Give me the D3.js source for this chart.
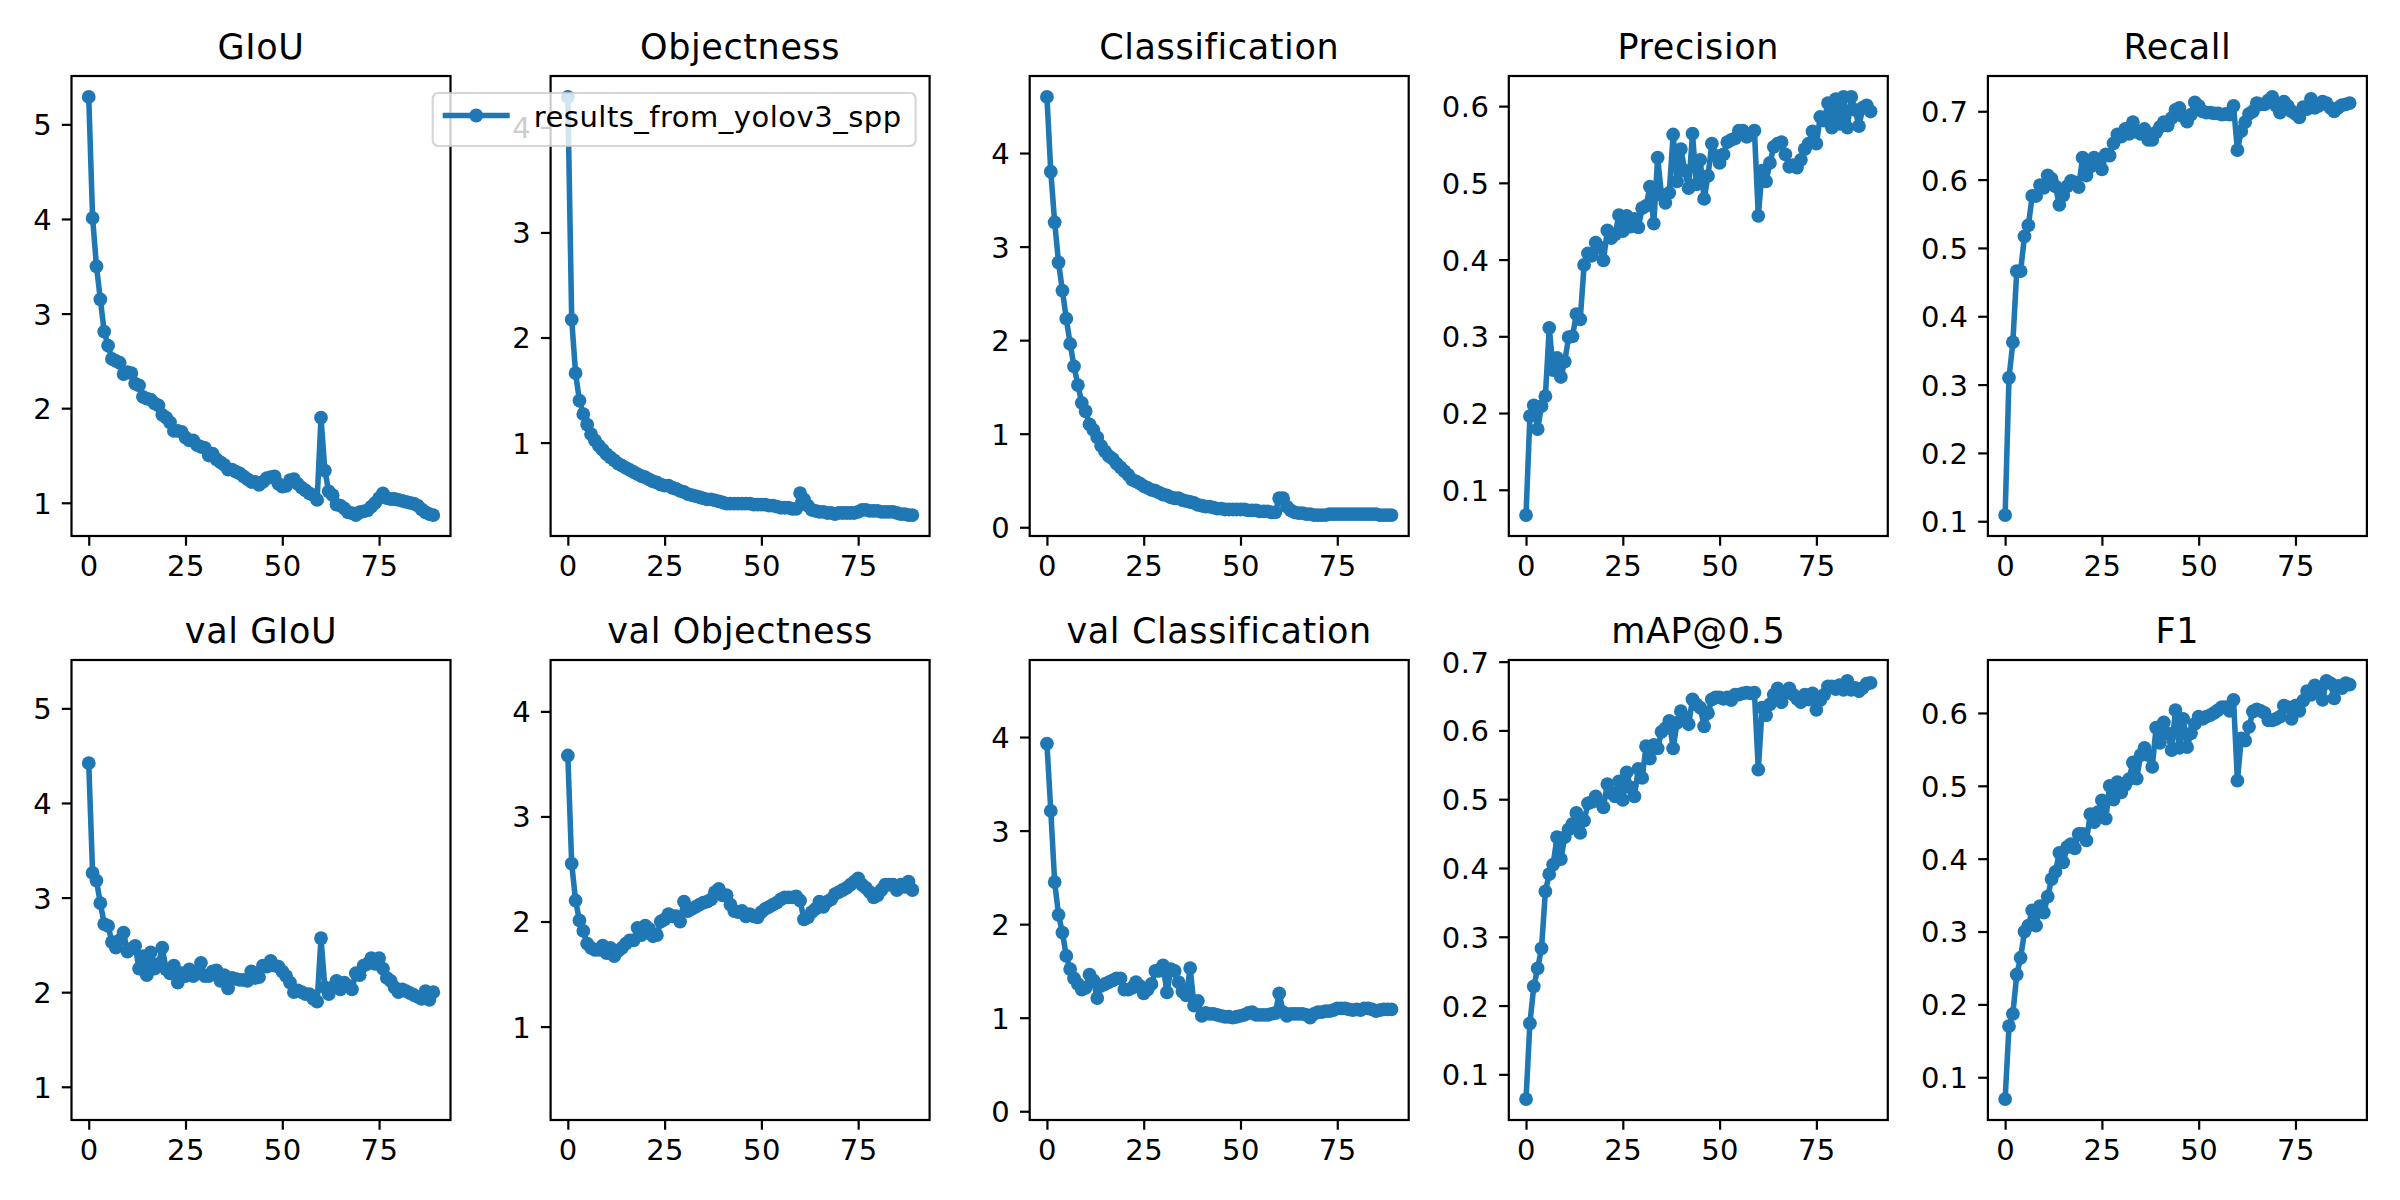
<!DOCTYPE html>
<html><head><meta charset="utf-8">
<script src="https://cdn.jsdelivr.net/npm/d3@7"></script>
<style>body{margin:0;background:#fff}</style>
</head><body>
<svg id="chart" width="2400" height="1200" xmlns="http://www.w3.org/2000/svg"></svg>
<script>
// ---------------- data ----------------
const titles = ["GIoU","Objectness","Classification","Precision","Recall",
                "val GIoU","val Objectness","val Classification","mAP@0.5","F1"];
const legendLabel = "results_from_yolov3_spp";
const xTickLabels = ["0","25","50","75"];

const giou = [5.29,4.01,3.50,3.15,2.81,2.66,2.52,2.50,2.48,2.36,
  2.38,2.37,2.26,2.24,2.12,2.10,2.09,2.05,2.03,1.93,
  1.90,1.85,1.76,1.76,1.75,1.69,1.66,1.66,1.61,1.59,
  1.58,1.50,1.52,1.46,1.43,1.40,1.35,1.35,1.33,1.31,
  1.28,1.25,1.22,1.22,1.19,1.22,1.26,1.27,1.28,1.20,
  1.17,1.18,1.24,1.25,1.20,1.16,1.13,1.10,1.08,1.03,
  1.90,1.34,1.12,1.08,0.98,0.97,0.94,0.90,0.89,0.87,
  0.90,0.91,0.92,0.96,1.00,1.05,1.10,1.05,1.04,1.04,
  1.03,1.02,1.01,1.00,0.99,0.97,0.93,0.90,0.88,0.87];
const objectness = [4.29,2.17,1.66,1.40,1.27,1.17,1.08,1.02,0.97,0.93,
  0.89,0.86,0.83,0.80,0.78,0.76,0.74,0.72,0.70,0.68,
  0.67,0.65,0.63,0.62,0.60,0.59,0.59,0.57,0.56,0.54,
  0.53,0.51,0.50,0.49,0.48,0.47,0.46,0.46,0.45,0.44,
  0.43,0.42,0.42,0.42,0.42,0.42,0.42,0.42,0.41,0.41,
  0.41,0.41,0.40,0.40,0.39,0.38,0.38,0.38,0.37,0.37,
  0.52,0.46,0.40,0.36,0.35,0.34,0.34,0.33,0.33,0.32,
  0.33,0.33,0.33,0.33,0.33,0.34,0.36,0.36,0.35,0.35,
  0.35,0.34,0.34,0.34,0.34,0.33,0.32,0.32,0.31,0.31];
const classification = [4.60,3.80,3.26,2.83,2.53,2.23,1.96,1.72,1.52,1.33,
  1.24,1.10,1.04,0.96,0.87,0.81,0.76,0.73,0.68,0.64,
  0.60,0.56,0.51,0.49,0.47,0.44,0.42,0.40,0.39,0.37,
  0.35,0.34,0.32,0.31,0.31,0.29,0.28,0.27,0.26,0.24,
  0.23,0.22,0.22,0.21,0.20,0.20,0.19,0.19,0.19,0.19,
  0.19,0.19,0.18,0.18,0.18,0.17,0.17,0.17,0.16,0.16,
  0.31,0.31,0.22,0.18,0.16,0.15,0.15,0.14,0.14,0.13,
  0.13,0.13,0.13,0.14,0.14,0.14,0.14,0.14,0.14,0.14,
  0.14,0.14,0.14,0.14,0.14,0.14,0.13,0.13,0.13,0.13];
const precision = [0.067,0.196,0.210,0.179,0.209,0.222,0.311,0.256,0.272,0.247,
  0.267,0.299,0.300,0.329,0.322,0.393,0.408,0.405,0.422,0.416,
  0.399,0.438,0.428,0.433,0.458,0.437,0.457,0.443,0.453,0.442,
  0.467,0.470,0.495,0.447,0.533,0.484,0.474,0.487,0.563,0.502,
  0.544,0.516,0.493,0.564,0.498,0.530,0.479,0.509,0.551,0.535,
  0.526,0.537,0.553,0.556,0.558,0.568,0.568,0.560,0.563,0.568,
  0.457,0.516,0.502,0.526,0.547,0.551,0.553,0.537,0.521,0.523,
  0.520,0.530,0.544,0.551,0.567,0.551,0.586,0.581,0.604,0.572,
  0.609,0.577,0.612,0.572,0.612,0.595,0.574,0.598,0.601,0.593];
const recall = [0.109,0.310,0.362,0.466,0.466,0.517,0.533,0.576,0.576,0.592,
  0.588,0.606,0.601,0.590,0.563,0.577,0.590,0.598,0.596,0.589,
  0.632,0.606,0.619,0.632,0.627,0.615,0.637,0.635,0.653,0.666,
  0.663,0.674,0.667,0.684,0.670,0.667,0.674,0.658,0.658,0.669,
  0.677,0.684,0.679,0.690,0.702,0.705,0.692,0.685,0.695,0.713,
  0.708,0.700,0.698,0.698,0.697,0.697,0.695,0.696,0.695,0.708,
  0.643,0.671,0.684,0.696,0.700,0.712,0.710,0.710,0.716,0.721,
  0.708,0.698,0.714,0.708,0.700,0.696,0.691,0.706,0.703,0.718,
  0.705,0.708,0.714,0.712,0.705,0.700,0.705,0.709,0.710,0.712];
const valGiou = [4.42,3.26,3.18,2.94,2.72,2.70,2.53,2.47,2.55,2.63,
  2.43,2.46,2.49,2.25,2.38,2.18,2.42,2.25,2.30,2.47,
  2.24,2.20,2.28,2.10,2.20,2.17,2.24,2.17,2.22,2.31,
  2.17,2.17,2.22,2.23,2.12,2.18,2.04,2.15,2.14,2.13,
  2.13,2.12,2.22,2.15,2.16,2.28,2.27,2.33,2.28,2.27,
  2.22,2.17,2.10,2.00,2.02,2.00,1.98,1.98,1.93,1.90,
  2.57,2.05,1.98,2.05,2.12,2.03,2.10,2.07,2.03,2.20,
  2.18,2.28,2.30,2.36,2.30,2.36,2.25,2.15,2.12,2.05,
  2.00,2.03,2.01,1.99,1.97,1.95,1.93,2.01,1.92,2.00];
const valObjectness = [3.58,2.55,2.20,2.01,1.91,1.79,1.75,1.73,1.73,1.77,
  1.70,1.75,1.67,1.72,1.75,1.79,1.82,1.82,1.94,1.87,
  1.96,1.93,1.86,1.87,2.00,2.02,2.07,2.05,2.05,2.00,
  2.19,2.10,2.12,2.14,2.16,2.18,2.19,2.21,2.28,2.31,
  2.25,2.25,2.16,2.10,2.09,2.10,2.05,2.07,2.05,2.04,
  2.09,2.12,2.14,2.16,2.18,2.21,2.23,2.23,2.23,2.24,
  2.20,2.02,2.04,2.09,2.12,2.19,2.14,2.19,2.21,2.26,
  2.28,2.30,2.32,2.35,2.38,2.41,2.35,2.32,2.28,2.23,
  2.25,2.30,2.35,2.35,2.35,2.30,2.35,2.33,2.38,2.30];
const valClassification = [3.93,3.21,2.45,2.10,1.91,1.66,1.52,1.42,1.36,1.30,
  1.32,1.46,1.40,1.21,1.34,1.36,1.38,1.40,1.42,1.42,
  1.30,1.30,1.32,1.38,1.34,1.26,1.30,1.36,1.50,1.50,
  1.56,1.27,1.52,1.50,1.38,1.28,1.24,1.53,1.13,1.18,
  1.02,1.05,1.04,1.04,1.03,1.02,1.01,1.01,1.00,1.01,
  1.02,1.03,1.05,1.06,1.03,1.03,1.03,1.03,1.04,1.05,
  1.26,1.06,1.02,1.04,1.04,1.04,1.04,1.03,1.00,1.04,
  1.06,1.06,1.07,1.07,1.08,1.10,1.10,1.10,1.09,1.08,
  1.09,1.08,1.10,1.10,1.09,1.07,1.08,1.09,1.09,1.09];
const mAP = [0.064,0.174,0.228,0.254,0.283,0.366,0.391,0.405,0.445,0.413,
  0.445,0.456,0.464,0.480,0.451,0.469,0.494,0.496,0.504,0.496,
  0.488,0.522,0.509,0.504,0.526,0.499,0.539,0.517,0.504,0.544,
  0.531,0.577,0.559,0.579,0.574,0.598,0.603,0.614,0.574,0.611,
  0.628,0.619,0.609,0.645,0.638,0.633,0.606,0.625,0.645,0.648,
  0.648,0.646,0.648,0.644,0.652,0.652,0.654,0.655,0.654,0.655,
  0.543,0.633,0.622,0.638,0.652,0.661,0.641,0.655,0.661,0.652,
  0.646,0.641,0.652,0.645,0.654,0.630,0.644,0.652,0.664,0.664,
  0.660,0.666,0.659,0.672,0.659,0.662,0.657,0.662,0.668,0.669];
const f1 = [0.070,0.170,0.187,0.241,0.264,0.300,0.308,0.329,0.308,0.335,
  0.326,0.348,0.372,0.382,0.408,0.395,0.416,0.420,0.414,0.434,
  0.434,0.425,0.461,0.450,0.464,0.480,0.455,0.500,0.481,0.505,
  0.491,0.501,0.509,0.532,0.510,0.542,0.552,0.542,0.526,0.580,
  0.559,0.587,0.572,0.549,0.604,0.552,0.592,0.553,0.572,0.585,
  0.595,0.592,0.595,0.597,0.600,0.604,0.608,0.608,0.603,0.618,
  0.507,0.565,0.562,0.581,0.602,0.605,0.603,0.600,0.590,0.590,
  0.592,0.595,0.610,0.608,0.592,0.610,0.603,0.617,0.630,0.625,
  0.638,0.630,0.618,0.644,0.641,0.620,0.637,0.634,0.641,0.639];

const yTicksGiou = ["1","2","3","4","5"];
const yTicksObj  = ["1","2","3","4"];
const yTicksCls  = ["0","1","2","3","4"];
const yTicksPrec = ["0.1","0.2","0.3","0.4","0.5","0.6"];
const yTicksRec  = ["0.1","0.2","0.3","0.4","0.5","0.6","0.7"];
const yTicksMap  = ["0.1","0.2","0.3","0.4","0.5","0.6","0.7"];
const yTicksF1   = ["0.1","0.2","0.3","0.4","0.5","0.6"];

// panels (train losses share y-range with their val counterparts)
const panels = [
  {values: giou, shared: valGiou, ticks: yTicksGiou},
  {values: objectness, shared: valObjectness, ticks: yTicksObj},
  {values: classification, shared: valClassification, ticks: yTicksCls},
  {values: precision, shared: null, ticks: yTicksPrec},
  {values: recall, shared: null, ticks: yTicksRec},
  {values: valGiou, shared: giou, ticks: yTicksGiou},
  {values: valObjectness, shared: objectness, ticks: yTicksObj},
  {values: valClassification, shared: classification, ticks: yTicksCls},
  {values: mAP, shared: null, ticks: yTicksMap},
  {values: f1, shared: null, ticks: yTicksF1}
];

// ---------------- layout ----------------
const BLUE = "#1f77b4";
const FONT = "DejaVu Sans, Verdana, sans-serif";
const left0 = 71.5, colStep = 479.1, plotW = 379, plotH = 460;
const rowTops = [76, 660];
const TICK = 9.7, TPAD = 9.7;
const TICKFS = 29, TICKLS = 0.5, TITLEFS = 35, TITLELS = 0.6;

const svg = d3.select("#chart");
svg.append("rect").attr("width",2400).attr("height",1200).attr("fill","#fff");

const panelPos = [];
panels.forEach((p, k) => {
  const col = k % 5, row = Math.floor(k / 5);
  const gx = left0 + col * colStep, gy = rowTops[row];
  panelPos.push([gx, gy]);
  const g = svg.append("g").attr("transform", `translate(${gx},${gy})`);

  const all = p.shared ? p.values.concat(p.shared) : p.values;
  const [mn, mx] = d3.extent(all);
  const pad = (mx - mn) * 0.05;
  const y = d3.scaleLinear().domain([mn - pad, mx + pad]).range([plotH, 0]);
  const n = p.values.length;
  const xpad = (n - 1) * 0.05;
  const x = d3.scaleLinear().domain([-xpad, n - 1 + xpad]).range([0, plotW]);

  const cid = "clip" + k;
  g.append("clipPath").attr("id", cid).append("rect")
    .attr("width", plotW).attr("height", plotH);
  const pg = g.append("g").attr("clip-path", `url(#${cid})`);
  pg.append("path").datum(p.values)
    .attr("d", d3.line().x((d, i) => x(i)).y(d => y(d)))
    .attr("fill", "none").attr("stroke", BLUE).attr("stroke-width", 5.56)
    .attr("stroke-linejoin", "round");
  pg.selectAll("circle").data(p.values).join("circle")
    .attr("cx", (d, i) => x(i)).attr("cy", d => y(d)).attr("r", 6.9)
    .attr("fill", BLUE);

  // axes
  const yAxis = d3.axisLeft(y).tickValues(p.ticks.map(Number))
    .tickFormat((d, i) => p.ticks[i]).tickSizeInner(TICK).tickSizeOuter(0).tickPadding(TPAD);
  const xAxis = d3.axisBottom(x).tickValues(xTickLabels.map(Number))
    .tickFormat((d, i) => xTickLabels[i]).tickSizeInner(TICK).tickSizeOuter(0).tickPadding(TPAD);
  const ya = g.append("g").call(yAxis);
  const xa = g.append("g").attr("transform", `translate(0,${plotH})`).call(xAxis);
  [ya, xa].forEach(a => {
    a.attr("font-family", FONT);
    a.select(".domain").remove();
    a.selectAll(".tick line").attr("stroke", "#000").attr("stroke-width", 2.2);
    a.selectAll(".tick text").attr("fill", "#000").attr("font-size", TICKFS)
      .attr("font-family", FONT).attr("letter-spacing", TICKLS);
  });
  ya.selectAll(".tick text").attr("dy", "0.36em");
  xa.selectAll(".tick text").attr("dy", "0.72em");

  g.append("rect").attr("width", plotW).attr("height", plotH)
    .attr("fill", "none").attr("stroke", "#000").attr("stroke-width", 2.2);

  g.append("text").attr("x", plotW / 2).attr("y", -16.7)
    .attr("text-anchor", "middle").attr("font-family", FONT)
    .attr("font-size", TITLEFS).attr("letter-spacing", TITLELS)
    .attr("fill", "#000").text(titles[k]);
});

// ---------------- legend (in Objectness panel, upper right) ----------------
{
  const [gx, gy] = panelPos[1];
  const lg = svg.append("g");
  const txt = lg.append("text").attr("font-family", FONT).attr("font-size", TICKFS)
    .attr("letter-spacing", TICKLS).attr("fill", "#000").text(legendLabel);
  const tw = txt.node().getComputedTextLength();
  const bp = 10, hl = 67, htp = 24, rp = 14;
  const w = bp + hl + htp + tw + rp;
  const h = 53;
  const right = gx + plotW - 14;
  const top = gy + 17;
  const left = right - w;
  lg.insert("rect", "text").attr("x", left).attr("y", top).attr("width", w).attr("height", h)
    .attr("rx", 5.6).attr("ry", 5.6)
    .attr("fill", "#fff").attr("fill-opacity", 0.8)
    .attr("stroke", "#cccccc").attr("stroke-opacity", 0.8).attr("stroke-width", 2.2);
  const hy = top + h / 2 - 4;
  lg.insert("line", "text").attr("x1", left + bp).attr("x2", left + bp + hl)
    .attr("y1", hy).attr("y2", hy).attr("stroke", BLUE).attr("stroke-width", 5.56);
  lg.insert("circle", "text").attr("cx", left + bp + hl / 2).attr("cy", hy).attr("r", 6.9).attr("fill", BLUE);
  txt.attr("x", left + bp + hl + htp).attr("y", top + 34);
}
</script>
</body></html>
